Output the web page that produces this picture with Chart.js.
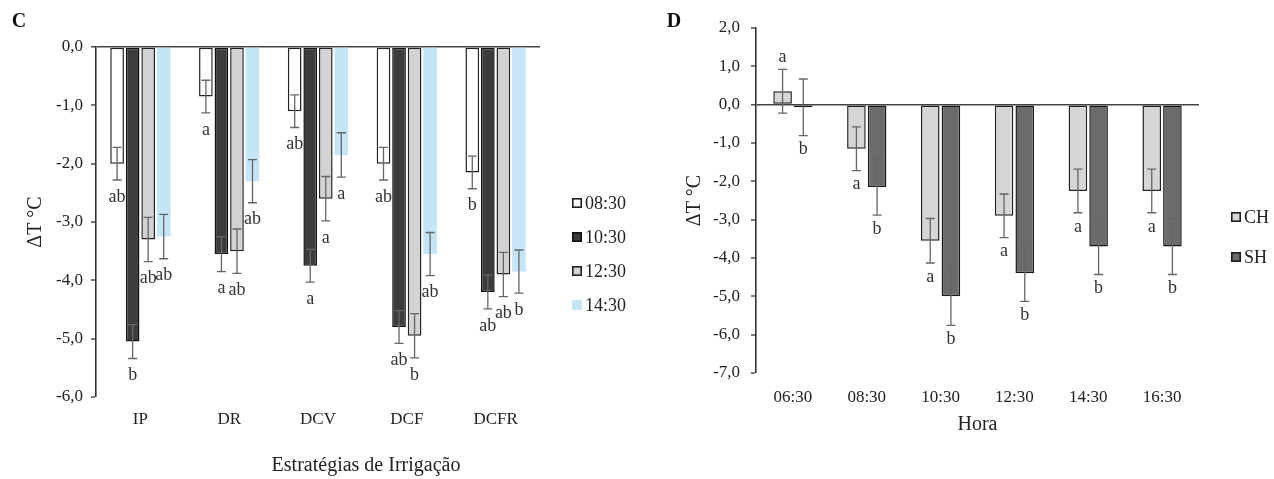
<!DOCTYPE html>
<html>
<head>
<meta charset="utf-8">
<script src="https://cdn.jsdelivr.net/npm/chart.js@4.4.1/dist/chart.umd.min.js"></script>
<style>
  html, body { margin: 0; padding: 0; background: #fff; }
  #wrap { position: relative; width: 1274px; height: 479px; }
  .panel { position: absolute; top: 0; height: 479px; }
  #boxC { left: 0; width: 640px; }
  #boxD { left: 640px; width: 634px; }
</style>
</head>
<body>
<div id="wrap">
  <div class="panel" id="boxC"><canvas id="chartC"></canvas></div>
  <div class="panel" id="boxD"><canvas id="chartD"></canvas></div>
</div>
<script>
// Painel C - estratégias de irrigação
const strategies = ["IP", "DR", "DCV", "DCF", "DCFR"];
const timesC = ["08:30", "10:30", "12:30", "14:30"];
const dt0830 = [-2.0, -0.85, -1.1, -2.0, -2.15];
const dt1030 = [-5.05, -3.55, -3.75, -4.8, -4.2];
const dt1230 = [-3.3, -3.5, -2.6, -4.95, -3.9];
const dt1430 = [-3.25, -2.3, -1.85, -3.55, -3.85];
const sd0830 = [0.28, 0.28, 0.28, 0.28, 0.28];
const sd1030 = [0.29, 0.3, 0.28, 0.28, 0.29];
const sd1230 = [0.38, 0.38, 0.38, 0.38, 0.38];
const sd1430 = [0.38, 0.37, 0.38, 0.37, 0.37];
const let0830 = ["ab", "a", "ab", "ab", "b"];
const let1030 = ["b", "a", "a", "ab", "ab"];
const let1230 = ["ab", "ab", "a", "b", "ab"];
const let1430 = ["ab", "ab", "a", "ab", "b"];

// Painel D - hora
const hours = ["06:30", "08:30", "10:30", "12:30", "14:30", "16:30"];
const seriesD = ["CH", "SH"];
const dtCH = [0.35, -1.15, -3.55, -2.9, -2.25, -2.25];
const dtSH = [-0.07, -2.15, -5.0, -4.4, -3.7, -3.7];
const sdCH = [0.57, 0.57, 0.58, 0.57, 0.57, 0.57];
const sdSH = [0.74, 0.73, 0.76, 0.73, 0.73, 0.73];
const letCH = ["a", "a", "a", "a", "a", "a"];
const letSH = ["b", "b", "b", "b", "b", "b"];

Chart.defaults.font.family = "'Liberation Serif', 'Times New Roman', serif";
Chart.defaults.color = "#222";

const fmt = v => v.toFixed(1).replace(".", ",");

// barras de erro, letras, legenda e rótulos extras
const extras = {
  id: "extras",
  afterDatasetsDraw(chart, args, opts) {
    const ctx = chart.ctx;
    const y = chart.scales.y;
    ctx.save();
    chart.data.datasets.forEach((ds, i) => {
      const meta = chart.getDatasetMeta(i);
      meta.data.forEach((bar, j) => {
        const v = ds.data[j], sd = ds.sd[j];
        const yTop = y.getPixelForValue(v + sd);
        const yBot = y.getPixelForValue(v - sd);
        ctx.strokeStyle = "#666";
        ctx.lineWidth = 1.3;
        ctx.beginPath();
        ctx.moveTo(bar.x, yTop); ctx.lineTo(bar.x, yBot);
        ctx.moveTo(bar.x - 4.5, yTop); ctx.lineTo(bar.x + 4.5, yTop);
        ctx.moveTo(bar.x - 4.5, yBot); ctx.lineTo(bar.x + 4.5, yBot);
        ctx.stroke();
        ctx.fillStyle = "#333";
        ctx.font = "18px 'Liberation Serif'";
        ctx.textAlign = "center";
        ctx.textBaseline = "middle";
        const ly = v >= 0 ? yTop - opts.upGap : yBot + opts.downGap;
        ctx.fillText(ds.letters[j], bar.x, ly);
      });
    });
    ctx.restore();
  },
  afterDraw(chart, args, opts) {
    const ctx = chart.ctx;
    ctx.save();
    ctx.textBaseline = "middle";
    // legenda
    chart.data.datasets.forEach((ds, i) => {
      const ly = opts.legendY + i * opts.legendStep;
      const bx = opts.legendX;
      ctx.fillStyle = ds.backgroundColor;
      ctx.fillRect(bx, ly - 5, 10, 10);
      if (ds.borderWidth > 0) {
        ctx.strokeStyle = ds.borderColor;
        ctx.lineWidth = 1.6;
        ctx.strokeRect(bx + 0.8, ly - 4.2, 8.4, 8.4);
      }
      ctx.fillStyle = "#222";
      ctx.font = "18px 'Liberation Serif'";
      ctx.textAlign = "left";
      ctx.fillText(ds.label, bx + 13, ly + 1);
    });
    // letra do painel
    ctx.font = "bold 20px 'Liberation Serif'";
    ctx.textAlign = "center";
    ctx.fillStyle = "#111";
    ctx.fillText(opts.panel, opts.panelX, 22);
    if (opts.xTitle) {
      ctx.font = "20px 'Liberation Serif'";
      ctx.fillStyle = "#222";
      ctx.fillText(opts.xTitle, opts.xTitleX, opts.xTitleY);
    }
    ctx.restore();
  }
};

function yScale(min, max, width, titlePad) {
  return {
    min: min,
    max: max,
    afterFit(scale) { scale.width = width; },
    ticks: {
      stepSize: 1,
      padding: width > 100 ? 11 : 8,
      font: { size: 17 },
      callback: v => fmt(v)
    },
    grid: {
      color: c => (c.tick && c.tick.value === 0 ? "#444" : "rgba(0,0,0,0)"),
      lineWidth: c => (c.tick && c.tick.value === 0 ? 1.6 : 0),
      tickColor: "#333",
      tickLength: 5,
      tickWidth: 1.3
    },
    border: { display: true, color: "#333", width: 1.6 },
    title: {
      display: true,
      text: "ΔT °C",
      font: { size: 20 },
      padding: { top: titlePad, bottom: 0 }
    }
  };
}

function xScale(height, pad, title) {
  const s = {
    afterFit(scale) { scale.height = height; },
    grid: { display: false, drawTicks: false },
    border: { display: false },
    ticks: { padding: pad, font: { size: 17 } }
  };
  if (title) {
    s.title = { display: true, text: title.text, font: { size: 20 }, padding: { top: 0, bottom: title.pb } };
  }
  return s;
}

new Chart(document.getElementById("chartC"), {
  type: "bar",
  data: {
    labels: strategies,
    datasets: [
      { label: timesC[0], data: dt0830, sd: sd0830, letters: let0830,
        backgroundColor: "#ffffff", borderColor: "#222", borderWidth: 1.5 },
      { label: timesC[1], data: dt1030, sd: sd1030, letters: let1030,
        backgroundColor: "#3c3c3c", borderColor: "#111", borderWidth: 1.5 },
      { label: timesC[2], data: dt1230, sd: sd1230, letters: let1230,
        backgroundColor: "#d3d3d3", borderColor: "#222", borderWidth: 1.5 },
      { label: timesC[3], data: dt1430, sd: sd1430, letters: let1430,
        backgroundColor: "#c3e5f6", borderColor: "#c3e5f6", borderWidth: 0 }
    ]
  },
  options: {
    responsive: true,
    maintainAspectRatio: false,
    animation: false,
    layout: { padding: { left: 0, right: 100, top: 47, bottom: 0 } },
    datasets: { bar: { categoryPercentage: 0.7, barPercentage: 0.88, borderSkipped: false } },
    scales: {
      x: xScale(82, 12, null),
      y: yScale(-6, 0, 96, 24)
    },
    plugins: {
      legend: { display: false },
      tooltip: { enabled: false },
      extras: {
        upGap: 12, downGap: 17,
        legendX: 572, legendY: 203, legendStep: 34,
        panel: "C", panelX: 19,
        xTitle: "Estratégias de Irrigação", xTitleX: 366, xTitleY: 466
      }
    }
  },
  plugins: [extras]
});

new Chart(document.getElementById("chartD"), {
  type: "bar",
  data: {
    labels: hours,
    datasets: [
      { label: seriesD[0], data: dtCH, sd: sdCH, letters: letCH,
        backgroundColor: "#d6d6d6", borderColor: "#222", borderWidth: 1.5 },
      { label: seriesD[1], data: dtSH, sd: sdSH, letters: letSH,
        backgroundColor: "#6b6b6b", borderColor: "#1a1a1a", borderWidth: 1.5 }
    ]
  },
  options: {
    responsive: true,
    maintainAspectRatio: false,
    animation: false,
    layout: { padding: { left: 0, right: 75, top: 28, bottom: 0 } },
    datasets: { bar: { categoryPercentage: 0.56, barPercentage: 0.9, borderSkipped: false } },
    scales: {
      x: xScale(106, 14, { text: "Hora", pb: 42 }),
      y: yScale(-7, 2, 116, 43)
    },
    plugins: {
      legend: { display: false },
      tooltip: { enabled: false },
      extras: {
        upGap: 12, downGap: 14,
        legendX: 591, legendY: 217, legendStep: 40,
        panel: "D", panelX: 34
      }
    }
  },
  plugins: [extras]
});
</script>
</body>
</html>
